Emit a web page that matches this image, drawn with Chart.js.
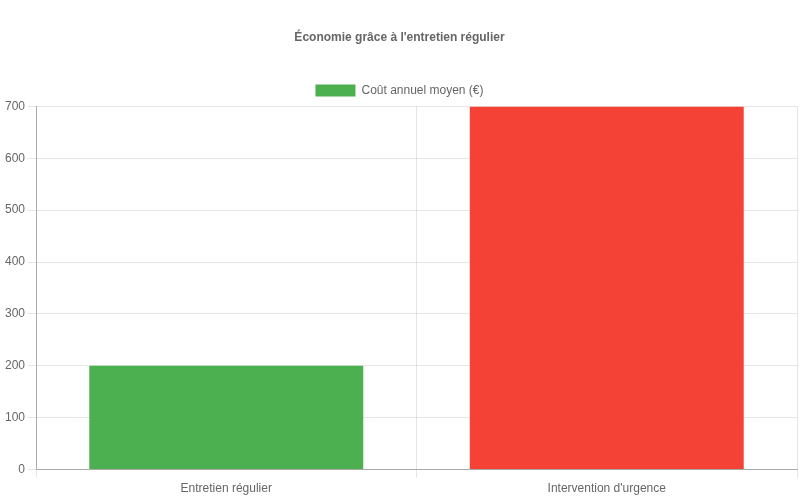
<!DOCTYPE html>
<html>
<head>
<meta charset="utf-8">
<script src="https://cdn.jsdelivr.net/npm/chart.js@4/dist/chart.umd.min.js"></script>
<style>
  html, body { margin: 0; padding: 0; background: #fff; }
  #wrap { width: 800px; height: 500px; }
</style>
</head>
<body>
<div id="wrap"><canvas id="costChart"></canvas></div>
<script>
const categories = ['Entretien régulier', "Intervention d'urgence"];
const annualCost = [200, 700];
const barColors = ['#4CAF50', '#F44336'];

const ctx = document.getElementById('costChart').getContext('2d');
new Chart(ctx, {
    type: 'bar',
    data: {
        labels: categories,
        datasets: [{
            label: 'Coût annuel moyen (€)',
            data: annualCost,
            backgroundColor: barColors,
            borderWidth: 0
        }]
    },
    options: {
        responsive: true,
        maintainAspectRatio: false,
        animation: false,
        layout: {
            padding: { left: 2, right: 3 }
        },
        scales: {
            x: {
                border: { color: '#aaa' },
                ticks: { padding: 4 }
            },
            y: {
                beginAtZero: true,
                max: 700,
                border: { color: '#aaa' },
                ticks: { stepSize: 100 }
            }
        },
        plugins: {
            title: {
                display: true,
                text: "Économie grâce à l'entretien régulier",
                font: { size: 12, weight: 'bold' },
                padding: { top: 30, bottom: 30 }
            },
            legend: {
                position: 'top'
            }
        }
    }
});
</script>
</body>
</html>
